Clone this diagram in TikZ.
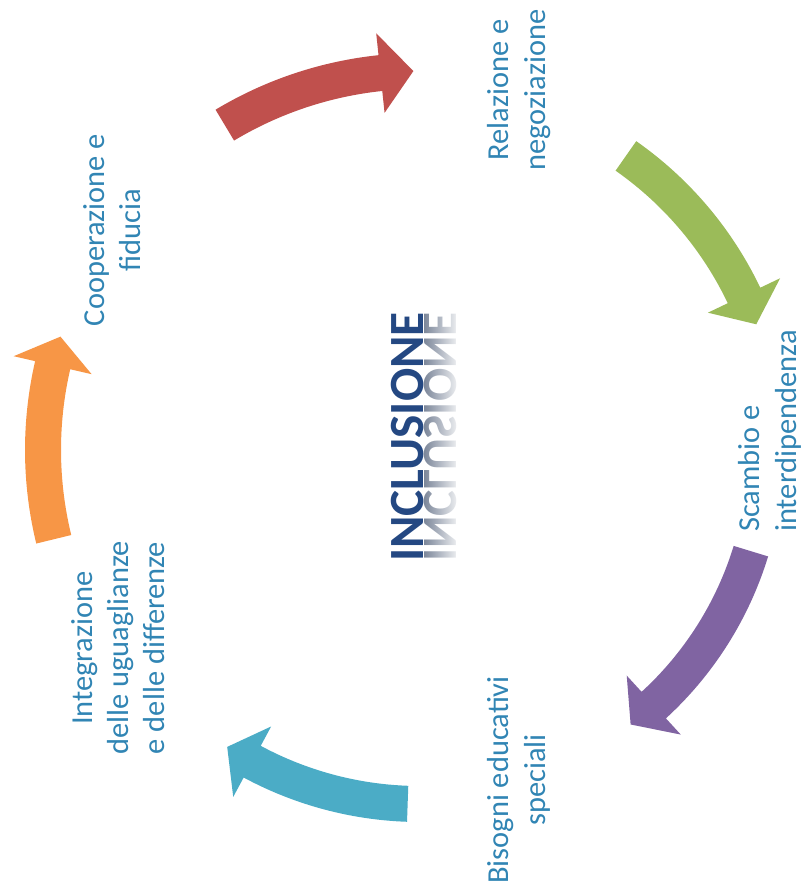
\documentclass[tikz,border=0pt]{standalone}
\usepackage{fontspec}
\setmainfont{Carlito}
\usetikzlibrary{fadings}
\definecolor{arrred}{RGB}{192,80,77}
\definecolor{arrgreen}{RGB}{155,187,89}
\definecolor{arrpurple}{RGB}{128,100,162}
\definecolor{arrblue}{RGB}{75,172,198}
\definecolor{arrorange}{RGB}{247,150,70}
\definecolor{labelblue}{RGB}{49,133,180}
\definecolor{titleblue}{RGB}{36,72,130}
\tikzfading[name=towhite, left color=transparent!100, right color=transparent!0]
\tikzstyle{cyclelabel}=[rotate=90, text=labelblue, font=\fontsize{26}{31}\selectfont, align=center, inner sep=0]
\tikzstyle{maintitle}=[rotate=90, text=titleblue, font=\fontsize{42}{50}\selectfont\bfseries, inner sep=0]

\begin{document}
\begin{tikzpicture}[x=0.03cm,y=0.03cm]
\useasboundingbox (0,0) rectangle (807,-893);

% curved block arrows round the centre
\foreach \col/\tail/\base/\tip/\r in {arrred/121/96/91/379, arrgreen/55/25.5/20.5/359, arrpurple/-17/-47.5/-52.5/346, arrblue/-92/-118.3/-123/354, arrorange/193.7/167/162.5/377}{
	\fill[\col, shift={(420,-450)}] ({\tail}:{\r+18}) arc[start angle=\tail, end angle=\base, radius=\r+18]
		-- ({\base}:{\r+40}) -- ({\tip}:{\r}) -- ({\base}:{\r-40}) -- ({\base}:{\r-18})
		arc[start angle=\base, end angle=\tail, radius=\r-18] -- cycle;
}

\node[cyclelabel] (relazione) at (519,-90) {Relazione e\\negoziazione};
\node[cyclelabel, align=left] (scambio) at (770,-431) {Scambio e\\interdipendenza};
\node[cyclelabel] (bisogni) at (519,-780) {Bisogni educativi\\speciali};
\node[cyclelabel] (integrazione) at (118,-648) {Integrazione\\delle uguaglianze\\e delle differenze};
\node[cyclelabel] (cooperazione) at (112,-230) {Cooperazione e\\fiducia};

% title with its mirror image
\node[maintitle] (incl) at (408,-437) {INCLUSIONE};
\node[maintitle, yscale=-1, text=titleblue!40!gray!80] (inclmirror) at (440,-437) {INCLUSIONE};
\fill[white, path fading=towhite] (424,-295) rectangle (462,-585);
\end{tikzpicture}
\end{document}
